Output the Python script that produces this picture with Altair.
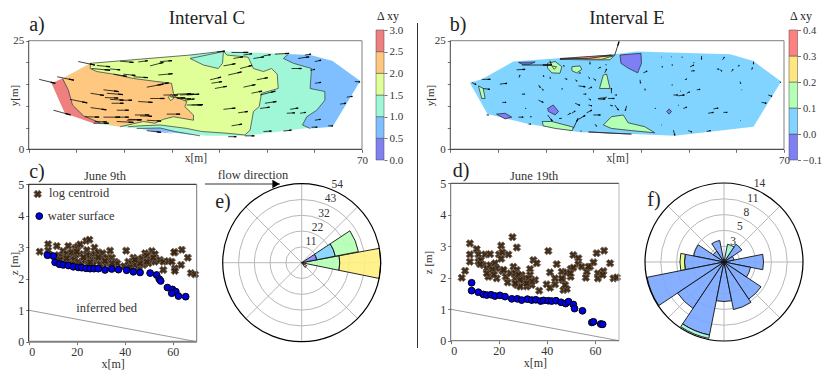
import math
import altair as alt
import pandas as pd

W, H = 815, 365
FONT = "Liberation Serif"

# ---------- panel a (interval C) ----------
hull_a = [(4.8,15.2),(7.1,16.3),(13.0,19.8),(33.9,21.7),(40.9,22.6),(54.5,21.9),(59.1,21.7),(63.8,20.3),(69.6,15.7),
          (63.8,5.2),(57.7,4.8),(45.4,3.1),(37.4,3.1),(22.7,4.8),(19.2,5.2),(13.6,6.0),(7.6,8.3)]
edge_red = [(7.1,16.3),(8.3,13.7),(9.2,10.2),(11.5,7.7),(15.0,6.1)]
edge_orange = [(13.0,19.8),(12.9,18.6),(14.3,17.9),(17.8,17.3),(22.0,16.3),(26.9,15.6),(30.0,15.2),(30.4,12.9),(30.9,12.0),
               (33.2,11.0),(32.8,9.8),(34.6,7.9),(34.6,6.7),(30.4,7.5),(28.3,6.9),(26.5,6.0),(24.1,6.4),(20.9,5.6),(19.2,5.2)]
edge_yellow = [(40.9,22.6),(41.6,21.7),(46.1,21.2),(47.2,18.6),(49.3,17.9),(51.0,18.6),(52.2,17.3),(52.4,14.0),(48.9,12.9),
               (48.4,9.8),(47.2,8.7),(46.5,4.4),(45.4,3.3),(41.6,3.7),(36.3,4.1),(33.2,4.8),(27.6,5.6),(23.4,5.4),(20.9,5.2)]
teal_hole = [(33.9,20.9),(33.9,21.7),(40.9,22.5),(40.7,19.8),(39.8,18.6),(36.7,19.4)]
edge_blue = [(54.5,21.9),(53.5,20.9),(55.6,19.8),(59.4,18.6),(59.1,14.0),(62.2,13.3),(62.2,11.3),(60.5,9.0),(58.4,7.5),(57.5,5.6),(59.1,4.8)]
sliver_blue = [(22.7,4.8),(27.6,4.9),(30.7,4.1),(36.0,3.1)]
sliver_purple = [(24.8,4.4),(27.0,4.3),(30.7,3.5)]
island = [(29.3,12.0),(30.0,12.7),(30.5,11.8),(29.8,11.2)]
yellow_top = [(13.0,19.8),(33.9,21.7),(40.9,22.6)]

arrows_a = [(2.2,16.1,3.4,-0.9),(5.2,9.0,3.6,-1.1),(6.0,16.7,3.5,-0.8),(10.4,20.2,3.5,-0.8),(8.7,11.5,3.6,-0.8),(13.2,18.6,3.9,-0.4),
 (14.3,19.3,2.8,-0.3),(17.1,18.5,2.1,-0.2),(19.2,20.3,2.8,-0.3),(23.0,20.1,2.0,0.3),(25.5,19.2,2.8,0.8),(27.6,20.2,2.5,0.2),
 (17.8,17.3,2.8,-0.5),(19.9,17.3,2.5,-0.3),(22,16.7,3,-0.2),(27.2,17.1,3,0.3),(24.8,14.3,3.5,0.7),(26.9,14.8,2.5,0.5),
 (15.7,13.7,3.2,-0.4),(16.4,12.9,3.4,-0.3),(13.0,12.9,2.8,-0.5),(16,11.9,2.8,-0.1),(17.1,11.5,2.8,-0.2),(19.2,11.3,2.5,0),
 (13,9.6,3.3,-0.5),(18.5,9.0,2.5,0),(23,11,3,-0.2),(25.5,11.7,3,0),(28.3,12.5,3,0),(31.1,11.7,3,-0.1),(31.8,12.5,3,0.2),
 (33.2,10.2,3.2,0),(34.2,10.2,2.4,0.1),(29.7,12.1,3.2,-0.3),(11.8,7.5,3,-0.1),(15.7,7.4,3.5,0),(18.5,7.4,2.5,0),(13.6,6.0,3.2,0),
 (18.5,6.4,3.5,-0.2),(20.6,6.7,3,0.1),(22.3,7.9,3,0),(24.8,6.7,3,-0.2),(29,8.1,2.8,0),(24.8,4.3,3,-0.4),(31.1,12.7,3,0.1),
 (38.1,16,2.3,0.6),(38.4,15.2,2.2,0.4),(39.1,14,2.5,0.5),(40.9,19.2,2.5,0.5),(41.9,17.1,2.8,0.7),(43,20.9,2,0.4),(44.4,18.6,2.5,0.7),
 (42.6,22.3,3.5,0),(39.5,22.4,1.7,0.2),(45.1,21.7,1.8,0.3),(45.1,14.3,2.5,0.6),(47.9,16,2.3,0.5),(47.2,20.9,2.2,0.4),(49.3,21.5,1.5,0.3),
 (51.7,21.9,3,0.2),(46.8,12.9,2.2,0.5),(40.9,9.2,2.5,0.3),(44,8.4,2,0.3),(42.6,5.4,2.2,0.4),(41.9,2.9,1.7,0),(45.4,3.1,2,0),
 (49.3,4.1,1.7,0.1),(53.5,4.2,1.7,0.2),(48.6,9.4,2,0.3),(49.6,10.6,2.4,0.4),(48.6,12.5,3.2,0.9),(54.9,9.2,1.7,0.3),(54.2,8.3,1.7,0.1),
 (57,8.3,1.2,0.2),(55.2,18.6,2.1,0),(60.1,15.2,1.3,0.2),(59.1,18.2,1,0.2),(60.1,20.2,1.3,0.3),(56.6,20.9,2.3,0.4),(58,21.7,1.3,0.2),
 (68.5,15.6,1.1,-0.1),(66.8,12,1.2,0.2),(65.4,10.4,1.2,0.2),(60.1,6.7,1.2,0.2),(62.9,5.4,1,0),(59.4,5.1,1.2,0),(33.2,12.5,2.6,0.2),
 (32.8,11.3,2,0.3),(17.4,10.6,2.5,0),(13.9,6.4,2.5,-0.1),(20.9,6.9,2.8,-0.1),(23.4,7.7,2.5,-0.1)]

# ---------- panel b (interval E) ----------
hull_b = [(4.1,15.3),(6.6,16.1),(13.2,20.2),(34.5,21.9),(39.1,22.5),(58.7,21.9),(63.6,20.3),(69.4,15.6),(63.6,5.2),(47.1,3.1),
          (38.4,3.5),(27.2,3.9),(16.4,5.8),(7.8,8.1)]
purple_b = [[(35.6,21.7),(40,22.1),(40.1,19.8),(39.3,17.6),(37.3,18.7),(35.8,19.8)],
            [(20.4,9.4),(21.6,10.2),(22.7,8.7),(22,7.9),(20.6,8.7)],
            [(9.7,8.1),(11.5,8.3),(12.9,7.4),(11.5,7.0)],
            [(45.4,8.7),(45.9,9.3),(46.4,8.7),(45.9,8.1)],
            [(14.3,20),(17.8,20.1),(16.7,19.6),(15.1,19.6)],
            [(29,4),(38,3.5),(33.8,3.7)]]
green_b = [[(20.4,19.8),(22,20.2),(23.4,19),(23,17.5),(21.3,17.6),(20.4,18.7)],
           [(25.5,19),(27.2,19.2),(27.6,18.4),(26.5,17.6),(25.5,18.1)],
           [(32.1,17.1),(32.8,17.3),(33.5,14),(31.3,14)],
           [(5.9,14.6),(6.9,14),(7.3,11.7),(6.6,11.7)],
           [(31,11.7),(32.8,12),(32.1,11.5)],
           [(19.3,6.4),(21.3,6.4),(25.8,5.1),(25.6,4.3),(22,4.8),(19.5,5.4)],
           [(32.1,5.6),(33.8,7.5),(36.3,7.9),(37.3,6.1),(40.8,5.2),(42.9,3.8),(38,4.3),(33.8,4.8)],
           [(23,20.7),(34.5,21.7),(33.5,20.6),(29,20.6)]]
yellow_b = [[(21.3,19.2),(22.3,19),(21.8,18.4)],[(26.2,20.9),(34.2,21.5),(31.7,20.7)]]
red_b = [[(23,20.9),(33.8,21.7),(29,20.9)]]

arrows_b = [(34.5,21.7,0.9,3.1),(15,19.4,6.3,0),(20.9,20.4,0.3,-1),(13.9,18.3,1.8,0.1),(6.6,16.1,1.8,0),(4.5,15.4,0.9,-0.5),(6.9,14,1.4,-0.2),
 (10.4,15,1.5,0.2),(14.4,16.5,0.2,0.6),(10.9,10.8,0.8,0),(15,12.7,0.6,0),(18.5,14.8,0.4,-0.6),(19.2,14,0.3,-0.4),(18.5,11.3,1,-0.5),
 (15.7,9.4,0.2,0),(14.3,7.4,1,0),(16.7,7.5,0.3,0),(7.6,7.9,0.4,0),(16.4,5.8,0.5,0),(20.4,7.9,1,-1.4),(22.8,7.1,0.5,0),(24.6,7.9,0.6,0.4),
 (25.5,8.3,0.7,0.5),(25.8,4.8,1,2.3),(26.9,6.9,1.4,0.9),(28.6,8.4,1.1,0.6),(30,7.9,1.5,0),(30.3,5.8,0.4,-0.5),(27.3,4.2,0.2,0),
 (34.5,10.2,0.8,-1.2),(37,10,-0.3,-1.1),(33.5,10.2,0.5,-0.2),(31,11.6,1.5,0),(33.1,11.7,1.3,0),(33.8,12.9,0,1.2),(34.5,12.5,0.4,0),
 (29,11.6,0.5,-0.2),(27.9,12.7,0.6,0),(26.9,14.6,1.4,-0.2),(26.2,10.6,1,-0.5),(29,10.2,0.7,-0.2),(23.4,13.7,0.1,0.3),(24,16.3,0.5,-0.2),
 (26.2,16,0.4,-0.3),(26.9,17.5,0.4,0.1),(29,16.7,0.2,-0.4),(30,16.3,0.5,-0.4),(32.4,17.6,0.4,0.9),(32.8,19.4,-0.2,0.1),(29.3,20.2,0,-0.6),
 (31,18.6,0.5,0.3),(23.7,19.4,0.2,-0.3),(19.5,17.1,0.1,-0.4),(20.9,16.7,0.1,-0.4),(29,14,0.7,0.3),(39.8,16,0.1,-0.8),(40.8,14,0.1,-0.4),
 (40.5,17.6,0.8,0.4),(44.3,19,0.3,0),(46.4,19.4,0.3,0),(44.3,21.2,0.1,0),(46.4,21.3,0.1,0),(48.5,21.2,0.2,0),(50.3,19,0.8,0.4),(50.5,18,0.7,0.1),
 (52.7,21.5,0,-0.8),(51,19.8,0.1,0.2),(49.2,16,0.4,0.2),(46.4,14.8,0.2,0),(48.2,13.3,0.1,0.1),(46.8,12.5,0.9,0),(47.8,12.3,1.3,0.2),
 (49.6,12.9,0.6,0.3),(51.7,13.7,0.7,0.1),(55.9,18.5,0.5,-0.1),(56.6,18.3,0.4,-0.3),(59,17.9,0.3,0.5),(57.1,20.6,0.4,0.6),(60.4,19,0.2,0.4),
 (63.2,18.3,0.2,0.5),(63.6,20.2,0,-0.6),(60.8,15.6,0.1,-0.5),(61.1,13.7,0.1,0),(69.2,15.6,0.1,-0.3),(66.7,12.5,0.8,-0.3),(65.3,10.8,1,-0.2),
 (42.9,9.4,0.2,0),(47.8,10.2,0.1,-0.1),(48.9,9.4,0.7,0.3),(54.1,8.3,1.1,0.2),(55.2,9.3,1,0.2),(57.3,8.5,0.8,0),(60.8,6.6,0.1,0),
 (46.8,4.4,0.3,-1.2),(49.9,4.3,0.8,-0.3),(53.8,4.1,0.8,0.2),(44.3,5.6,0.1,0)]

# ---------- panel c / d scatter ----------
logs_c = [(4.6,2.86),(8.1,3.1),(8.1,2.9),(8.9,2.75),(11.7,3.04),(12.4,2.75),(16.5,3.04),(14.4,2.88),(13.9,2.7),(15.8,2.8),(17.2,2.7),(16.5,2.54),
 (15.1,2.49),(19.3,2.97),(20.3,3.02),(21.4,3.09),(23.9,3.2),(25.3,3.24),(27.4,2.99),(24.2,2.91),(21.4,2.78),(19.3,2.75),(18.9,2.6),(20.7,2.54),
 (17.9,2.46),(22.1,2.46),(23.5,2.6),(25.6,2.75),(27.6,2.78),(29,2.84),(30.8,2.81),(33.9,2.89),(26.3,2.6),(28.4,2.6),(30.5,2.65),(32.6,2.67),
 (34.7,2.67),(36,2.54),(36.9,2.49),(29.7,2.46),(32.5,2.49),(26.9,2.44),(24.9,2.44),(40.6,2.89),(39.7,2.4),(41.5,2.54),(43.6,2.67),(42.9,2.49),
 (45,2.6),(45.7,2.38),(44.3,2.44),(47.1,2.65),(48.5,2.81),(51.3,2.88),(49.2,2.73),(52.6,2.78),(50.6,2.6),(52.6,2.54),(47.8,2.44),(49.9,2.49),
 (54.7,2.6),(56.1,2.54),(58.2,2.56),(59.6,2.54),(56.1,2.28),(60.9,2.84),(60.6,2.84),(63.8,2.92),(66.3,2.67),(63.5,2.44),(60.9,2.33),(60.9,2.25),
 (67.6,2.18),(69.3,2.14),(24.2,2.75),(17.9,2.84),(13.1,2.6),(15.8,2.65),(20,2.86),(22.8,2.68),(25.6,2.52),(29,2.68),(31.8,2.56),(34.7,2.49),
 (49.2,2.54),(51.9,2.67),(46.4,2.49),(44.3,2.6),(42.2,2.36)]
water_c = [(7.8,2.75),(10.3,2.72),(11,2.52),(12.8,2.46),(14.4,2.44),(16.5,2.42),(18.6,2.38),(20.7,2.36),(22.1,2.35),(23.9,2.33),(25.6,2.32),
 (27.2,2.32),(29,2.32),(31.8,2.28),(34.6,2.31),(37.4,2.29),(40.8,2.27),(43.6,2.22),(46.4,2.2),(50.6,2.18),(53.3,2.12),(54.4,1.99),(55,1.93),
 (57.8,1.72),(59.9,1.66),(61.3,1.59),(59.6,1.54),(62.4,1.45),(65.4,1.43)]
logs_d = [(4.6,2.0),(6,2.22),(8,3.09),(8,2.74),(8,2.51),(10.8,2.91),(11.5,2.74),(11.5,2.51),(12.5,2.56),(14.3,2.74),(16.4,2.75),(13.6,2.4),(15,2.3),
 (16.4,2.4),(15.7,2.03),(19.1,1.98),(18.4,2.46),(19.1,2.3),(21,3.02),(20.1,2.74),(21.5,2.81),(21,2.6),(24,2.74),(25.7,3.29),(27.5,2.96),(21.5,2.21),
 (22.9,2.03),(24.8,2.14),(23.7,1.85),(26.1,2.35),(27.5,2.25),(26.8,1.98),(27.5,1.77),(29.5,2.09),(31,1.93),(33,2.28),(34.4,2.56),(35.8,2.46),(33,2.09),
 (35.1,1.93),(36.8,1.59),(33.7,1.77),(30.2,1.82),(28.9,1.72),(31.6,1.72),(39.9,1.79),(40.6,2.85),(41.3,2.17),(41.3,1.68),(43.4,1.79),(44.1,2.43),
 (43.4,1.98),(46.2,2.19),(46.5,1.93),(46.9,1.61),(48.3,1.64),(47.6,1.77),(49.9,2.28),(51,2.72),(53.1,2.62),(53.1,2.43),(51,2.32),(49.9,2.03),(54.5,2.35),
 (56.6,2.19),(56.2,2.0),(58,2.35),(59.4,2.49),(60.7,2.78),(63.8,2.86),(61.2,2.14),(61.2,1.98),(63.5,2.21),(63.2,2.09),(66.3,2.46),(67.7,1.98),(69.1,2.01),
 (15,2.14),(17.3,2.25),(18,2.1),(12.2,2.43),(22,2.25),(26.8,2.14),(28.2,2.09),(30.2,1.98),(28.9,1.93),(32.4,1.98),(33.7,1.88),(31.6,1.82),(26.8,1.82),
 (46.2,1.98),(48.3,2.17),(49.7,2.14),(57.3,2.35)]
water_d = [(8.7,1.84),(8.7,1.59),(11.5,1.54),(13.6,1.47),(15,1.45),(16.8,1.46),(18.4,1.42),(20.5,1.44),(22.6,1.4),(25.4,1.33),(27.7,1.33),(29.5,1.29),
 (31.9,1.32),(33.7,1.29),(35.4,1.3),(37.4,1.26),(38.6,1.28),(40.6,1.27),(42,1.26),(43.8,1.27),(45.9,1.22),(47.8,1.18),(49,1.24),(51,1.15),(51.5,1.02),
 (54.8,0.95),(58.7,0.58),(59.4,0.6),(62.4,0.53),(63.2,0.52)]

# ---------- rose panels (compass degrees, r0, r1, colour level) ----------
rose_e = [(79.5,101.5,0,26,"g"),(79.5,101.5,26,54,"y"),(56.5,79,0,10.5,"p"),(56.5,79,10.5,23.4,"c"),(56.5,79,23.4,39.5,"g"),
          (120,145,0,2,"y"),(120,145,2,4,"o")]
rose_f = [(78.75,101.25,0,7.0,"b"),(33.75,56.25,0,3.8,"b"),(11.25,33.75,0,3.2,"t"),(326.25,348.75,0,3.9,"b"),(303.75,326.25,0,2.3,"b"),
          (281.25,303.75,0,5.5,"b"),(258.75,281.25,0,7.0,"b"),(258.75,281.25,7.0,7.8,"l"),(236.25,258.75,0,13.9,"b"),(213.75,236.25,0,9.9,"b"),
          (191.25,213.75,0,13.2,"b"),(191.25,213.75,13.2,13.8,"t"),(168.75,191.25,0,7.0,"b"),(146.25,168.75,0,8.6,"b"),(123.75,146.25,0,7.9,"b"),
          (101.25,123.75,0,4.8,"b"),(56.25,78.75,0,1.8,"b")]
rings_e = [10.8,21.6,32.4,43.2,54]
ring_labels_e = ["11","22","32","43","54"]
rings_f = [2.8,5.6,8.4,11.2,14]
ring_labels_f = ["3","5","8","11","14"]

COL = {"p":"#7f7ff5","c":"#80d4ff","g":"#b3ffb3","y":"#fff080","o":"#ffc880","b":"#7aa6ff","t":"#9ff7d8","l":"#e0ff80"}
cmap_a = ["#8080f0","#80bfff","#9ff7d8","#e0ff99","#ffc880","#f08080"]
levels_a = [0,0.5,1,1.5,2,2.5,3]
cmap_b = ["#7f7ff5","#80d4ff","#b3ffb3","#ffe680","#ff8080"]
levels_b = [-0.1,0,0.1,0.2,0.3,0.4]

PANELS = {
    "a": dict(xr=(28.7,362.0), yr=(149.3,40.7), xd=(0,70), yd=(0,25)),
    "b": dict(xr=(450.3,784.0), yr=(149.3,40.7), xd=(0,70), yd=(0,25)),
    "c": dict(xr=(28.7,196.7), yr=(341.7,184.3), xd=(0,70), yd=(0,5)),
    "d": dict(xr=(450.7,619.0), yr=(340.7,183.3), xd=(0,70), yd=(0,5)),
    "e": dict(xr=(222.7,380.7), yr=(341.7,183.7), xd=(-54,54), yd=(-54,54)),
    "f": dict(xr=(645.0,803.0), yr=(341.0,183.0), xd=(-14,14), yd=(-14,14)),
}

def xs(p):
    P = PANELS[p]
    return alt.Scale(domain=list(P["xd"]), range=[P["xr"][0]-8, P["xr"][1]-8], nice=False, zero=False)
def ys(p):
    P = PANELS[p]
    return alt.Scale(domain=list(P["yd"]), range=[P["yr"][0]-8, P["yr"][1]-8], nice=False, zero=False)
def X(p, f="x", axis=None):
    return alt.X(f"{f}:Q", scale=xs(p), axis=axis)
def Y(p, f="y", axis=None):
    return alt.Y(f"{f}:Q", scale=ys(p), axis=axis)

def polys(p, plist, color, stroke=None, sw=0.7):
    rows = []
    for i, pts in enumerate(plist):
        for j, (a, b) in enumerate(pts):
            rows.append(dict(x=a, y=b, s=j, pid=i))
    kw = dict(fill=color, interpolate="linear-closed", strokeWidth=sw if stroke else 0, stroke=stroke or color)
    return alt.Chart(pd.DataFrame(rows)).mark_line(**kw).encode(x=X(p), y=Y(p), order="s:Q", detail="pid:N")

def contour(p, pts, sw=0.7, color="#333"):
    df = pd.DataFrame([dict(x=a, y=b, s=j) for j, (a, b) in enumerate(pts)])
    return alt.Chart(df).mark_line(color=color, strokeWidth=sw).encode(x=X(p), y=Y(p), order="s:Q")

def quiver(p, arr):
    df = pd.DataFrame(arr, columns=["x","y","dx","dy"])
    df["x2"] = df.x + df.dx
    df["y2"] = df.y + df.dy
    df["xh"] = df.x + 0.7*df.dx
    df["yh"] = df.y + 0.7*df.dy
    return [
        alt.Chart(df).mark_rule(color="black", strokeWidth=0.75).encode(x=X(p), y=Y(p), x2="x2:Q", y2="y2:Q"),
        alt.Chart(df).mark_rule(color="black", strokeWidth=1.3).encode(x=X(p,"xh"), y=Y(p,"yh"), x2="x2:Q", y2="y2:Q"),
    ]

def frame(p, xaxis, yaxis, cols):
    P = PANELS[p]
    (x0,x1),(y0,y1) = P["xd"],P["yd"]
    top, right, left, bottom, bw = cols
    out = []
    d = pd.DataFrame([dict(x=x0,x2=x1,y=y1)])
    out.append(alt.Chart(d).mark_rule(color=top, strokeWidth=1).encode(x=X(p), x2="x2:Q", y=Y(p)))
    d = pd.DataFrame([dict(x=x1,y=y0,y2=y1)])
    out.append(alt.Chart(d).mark_rule(color=right, strokeWidth=1).encode(x=X(p), y=Y(p), y2="y2:Q"))
    d = pd.DataFrame([dict(x=x0,y=y0,y2=y1)])
    out.append(alt.Chart(d).mark_rule(color=left, strokeWidth=1).encode(x=X(p), y=Y(p,axis=yaxis), y2="y2:Q"))
    d = pd.DataFrame([dict(x=x0,x2=x1,y=y0)])
    out.append(alt.Chart(d).mark_rule(color=bottom, strokeWidth=bw).encode(x=X(p,axis=xaxis), x2="x2:Q", y=Y(p)))
    return out

AX = dict(domain=False, grid=False, labelFont=FONT, titleFont=FONT, labelColor="#333", titleColor="#333",
          tickColor="#333", tickWidth=0.7, tickSize=3, labelPadding=2, titleFontWeight="normal")

tx_map = {"a": -9, "b": -15}

def map_axes(p):
    P = PANELS[p]
    xa = alt.Axis(orient="bottom", offset=P["yr"][0]-8-H, values=list(range(0,71,10)),
                  labelExpr="datum.value==70?datum.label:''", labelFontSize=11, title="x[m]", titleFontSize=11.5,
                  titleY=3, labelFlush=False, labelOverlap=False, **AX)
    ya = alt.Axis(orient="left", offset=-(P["xr"][0]-8), values=list(range(0,26,5)),
                  labelExpr="datum.value==0||datum.value==25?datum.label:''", labelFontSize=11, title="y[m]", titleFontSize=11,
                  titleX=tx_map[p], labelOverlap=False, **AX)
    return xa, ya

def side_axes(p, tx):
    P = PANELS[p]
    xa = alt.Axis(orient="bottom", offset=P["yr"][0]-8-H, values=[0,20,40,60], labelFontSize=12, title="x[m]", titleFontSize=12,
                  titleY=17, labelOverlap=False, **AX)
    ya = alt.Axis(orient="left", offset=-(P["xr"][0]-8), values=[0,1,2,3,4,5], labelFontSize=12, title="z [m]", titleFontSize=11,
                  titleX=tx, labelOverlap=False, **AX)
    return xa, ya

def text(label, px, py, size, color="#222", align="center", baseline="middle"):
    return alt.Chart(pd.DataFrame({"t":[label]})).mark_text(font=FONT, fontSize=size, color=color, align=align, baseline=baseline).encode(
        x=alt.value(px-8), y=alt.value(py-8), text="t:N")

def dtext(p, label, a, b, size=12.5, align="left"):
    return alt.Chart(pd.DataFrame({"t":[label],"x":[a],"y":[b]})).mark_text(font=FONT, fontSize=size, color="#333", align=align, baseline="middle").encode(
        x=X(p), y=Y(p), text="t:N")

def colorbar(levels, colors, x0, x1, size=11):
    rows = [dict(a=levels[i], b=levels[i+1], c=colors[i]) for i in range(len(colors))]
    sc = alt.Scale(domain=[levels[0], levels[-1]], range=[152, 22], nice=False, zero=False)
    ax = alt.Axis(orient="right", offset=x1-8-W, values=levels, format=".1f", labelFontSize=size, title=None, labelOverlap=False,
                  **{k:v for k,v in AX.items() if k not in ("titleFont","titleColor","titleFontWeight")})
    return alt.Chart(pd.DataFrame(rows)).mark_rect(stroke="#444", strokeWidth=0.5).encode(
        x=alt.value(x0-8), x2=alt.value(x1-8), y=alt.Y("a:Q", scale=sc, axis=ax), y2="b:Q",
        fill=alt.Fill("c:N", scale=None))

def scatter(p, logs, water):
    l = pd.DataFrame(logs, columns=["x","y"])
    w = pd.DataFrame(water, columns=["x","y"])
    return [
        alt.Chart(l).mark_point(shape="cross", angle=45, filled=True, fill="#3a2410", stroke="#6e6254", strokeWidth=0.9, size=58, opacity=0.95).encode(x=X(p), y=Y(p)),
        alt.Chart(w).mark_circle(fill="#0000e6", stroke="black", strokeWidth=1, size=46, opacity=1).encode(x=X(p), y=Y(p)),
    ]

def bed(p):
    d = pd.DataFrame([dict(x=0,y=1,x2=70,y2=0)])
    return alt.Chart(d).mark_rule(color="#555", strokeWidth=0.6).encode(x=X(p), y=Y(p), x2="x2:Q", y2="y2:Q")

def rose(p, rows, rings, ring_labels, cx, cy, rmax, opacity):
    th = alt.Scale(domain=[0,360], range=[0, 2*math.pi])
    rad = alt.Scale(type="linear", domain=[0,rmax], range=[0,79], zero=True, nice=False)
    out = []
    gr = pd.DataFrame({"r":rings[:-1], "a":[0]*4, "b":[360]*4, "r0":[0]*4})
    out.append(alt.Chart(gr).mark_arc(fillOpacity=0, stroke="#b8b8b8", strokeWidth=1).encode(
        x=alt.value(cx-8), y=alt.value(cy-8),
        theta=alt.Theta("a:Q", scale=th, stack=None), theta2="b:Q", radius=alt.Radius("r:Q", scale=rad), radius2="r0:Q"))
    sp = []
    for i in range(8):
        ang = math.radians(45*i)
        sp.append(dict(x=0, y=0, x2=rmax*math.sin(ang), y2=rmax*math.cos(ang)))
    out.append(alt.Chart(pd.DataFrame(sp)).mark_rule(color="#b8b8b8", strokeWidth=1).encode(x=X(p), y=Y(p), x2="x2:Q", y2="y2:Q"))
    df = pd.DataFrame(rows, columns=["a","b","r0","r1","k"])
    df["col"] = df.k.map(COL)
    out.append(alt.Chart(df).mark_arc(stroke="#111", strokeWidth=0.9, fillOpacity=opacity).encode(
        x=alt.value(cx-8), y=alt.value(cy-8),
        theta=alt.Theta("a:Q", scale=th, stack=None), theta2="b:Q",
        radius=alt.Radius("r1:Q", scale=rad), radius2="r0:Q", fill=alt.Fill("col:N", scale=None)))
    out.append(alt.Chart(pd.DataFrame({"r":[rmax], "a":[0], "b":[360], "r0":[0]})).mark_arc(fillOpacity=0, stroke="black", strokeWidth=1.2).encode(
        x=alt.value(cx-8), y=alt.value(cy-8),
        theta=alt.Theta("a:Q", scale=th, stack=None), theta2="b:Q", radius=alt.Radius("r:Q", scale=rad), radius2="r0:Q"))
    lab = []
    pad = 6.5*rmax/79
    s, c = math.sin(math.radians(24.5)), math.cos(math.radians(24.5))
    for r, t in zip(rings, ring_labels):
        lab.append(dict(x=(r+pad)*s, y=(r+pad)*c, t=t))
    out.append(alt.Chart(pd.DataFrame(lab)).mark_text(font=FONT, fontSize=11.5, color="#333", baseline="middle").encode(x=X(p), y=Y(p), text="t:N"))
    return out

layers = []

# panel a
xa, ya = map_axes("a")
layers += [polys("a",[hull_a],cmap_a[2])]
layers += [polys("a",[edge_blue+[(63.8,5.2),(69.6,15.7),(63.8,20.3),(59.1,21.7)]],cmap_a[1])]
layers += [polys("a",[yellow_top[:-1]+edge_yellow+edge_orange[::-1][1:]],cmap_a[3])]
layers += [polys("a",[teal_hole],cmap_a[2])]
layers += [polys("a",[sliver_blue],cmap_a[1]), polys("a",[sliver_purple],cmap_a[0])]
layers += [polys("a",[edge_orange+[(15.0,6.1)]+edge_red[::-1][1:]],cmap_a[4])]
layers += [polys("a",[edge_red+[(13.6,6.0),(7.6,8.3),(4.8,15.2)]],cmap_a[5])]
layers += [polys("a",[island],cmap_a[3],stroke="#333")]
for c in (edge_red, edge_orange, edge_yellow, edge_blue, [(33.9,20.9),(40.9,22.5),(40.7,19.8),(39.8,18.6),(36.7,19.4),(33.9,20.9)], yellow_top, sliver_blue):
    layers.append(contour("a", c))
layers += quiver("a", arrows_a)
layers += frame("a", xa, ya, ("#808080","#808080","#444","#222",1))
layers.append(colorbar(levels_a, cmap_a, 376, 384))

# panel b
xa, ya = map_axes("b")
layers += [polys("b",[hull_b],cmap_b[1])]
layers += [polys("b",green_b,cmap_b[2],stroke="#222")]
layers += [polys("b",purple_b,cmap_b[0],stroke="#222")]
layers += [polys("b",yellow_b,cmap_b[3],stroke="#222")]
layers += [polys("b",red_b,cmap_b[4],stroke="#222")]
layers += quiver("b", arrows_b)
layers += frame("b", xa, ya, ("#808080","#808080","#444","#222",1))
layers.append(colorbar(levels_b, cmap_b, 789, 797.5, 10.5))

# panel c
xa, ya = side_axes("c", -9)
layers += [bed("c")]
layers += scatter("c", logs_c, water_c)
layers += frame("c", xa, ya, ("#111","#777","#111","#808080",2))
layers += scatter("c", [(3.75,4.69)], [(4.4,3.99)])
layers += [dtext("c","log centroid",8.5,4.71), dtext("c","water surface",7.9,4.0), dtext("c","inferred bed",32.5,1.06,align="center")]

# panel d
xa, ya = side_axes("d", -17)
layers += [bed("d")]
layers += scatter("d", logs_d, water_d)
layers += frame("d", xa, ya, ("#333","#bbb","#666","#666",1))

# roses
layers += rose("e", rose_e, rings_e, ring_labels_e, 301.7, 262.7, 54, 0.9)
layers += rose("f", rose_f, rings_f, ring_labels_f, 724.0, 262.0, 14, 0.9)

# annotations
layers += [
    text("Interval C",207,8.5,19,baseline="top"), text("Interval E",627,8.5,19,baseline="top"),
    text("a)",37,25,20), text("b)",458,25,20), text("c)",37,172,20), text("d)",461,171,20), text("e)",223,202,20), text("f)",654,200,20),
    text("June 9th",105,176,12.5,"#333"), text("June 19th",534,175.5,12.5,"#333"),
    text("flow direction",253,175,12.5,"#333"),
    text("\u0394 xy",388,16,12), text("\u0394 xy",801,16,12),
]
layers.append(alt.Chart(pd.DataFrame({"k":[1]})).mark_rule(color="#333", strokeWidth=1).encode(
    x=alt.value(197), x2=alt.value(272), y=alt.value(176)))
layers.append(alt.Chart(pd.DataFrame({"k":[1]})).mark_point(shape="triangle-right", filled=True, color="black", size=70, opacity=1).encode(
    x=alt.value(268), y=alt.value(176)))
layers.append(alt.Chart(pd.DataFrame({"k":[1]})).mark_rule(color="#333", strokeWidth=1).encode(
    x=alt.value(409.5), y=alt.value(15), y2=alt.value(340)))

chart = alt.layer(*layers).resolve_scale(x="independent", y="independent", theta="independent", radius="independent").properties(
    width=W, height=H, padding=0, autosize=alt.AutoSizeParams(type="none")
).configure_view(stroke=None)

chart.save("out.html", embed_options={"renderer": "svg", "actions": False})
